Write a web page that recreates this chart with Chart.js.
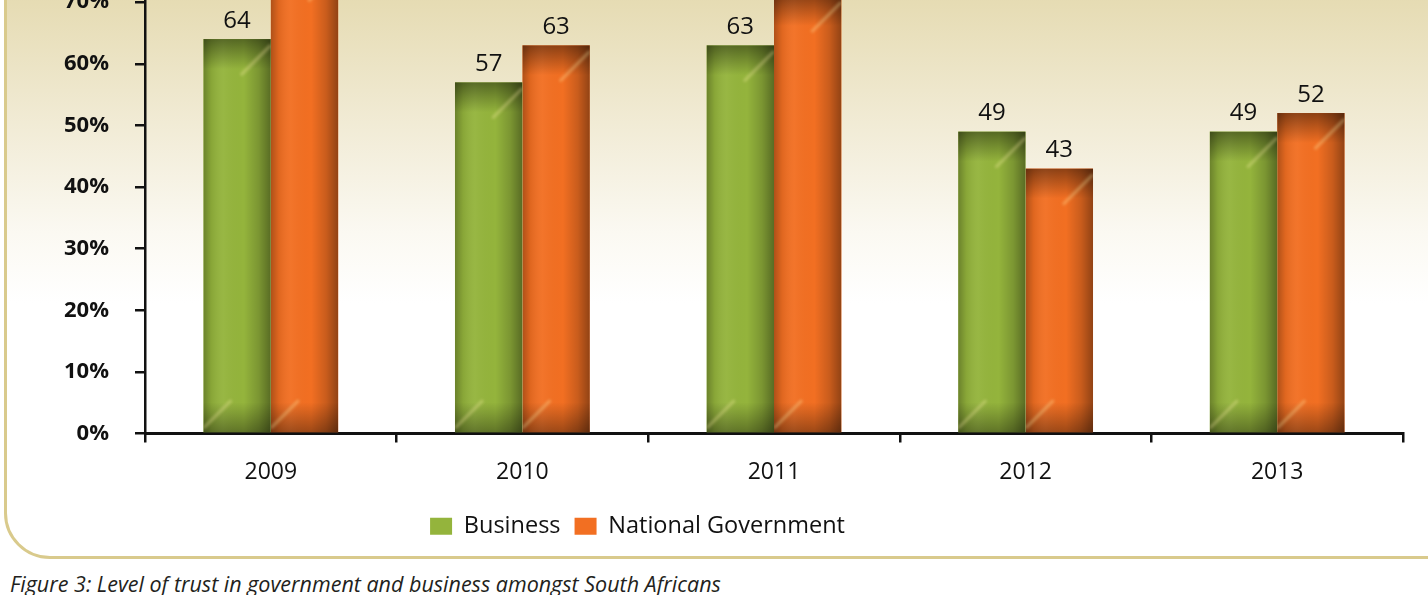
<!DOCTYPE html>
<html>
<head>
<meta charset="utf-8">
<script src="https://cdn.jsdelivr.net/npm/chart.js@4.4.1/dist/chart.umd.min.js"></script>
<style>
  html, body { margin: 0; padding: 0; background: #fff; }
  body { width: 1428px; height: 595px; overflow: hidden; position: relative; font-family: 'Open Sans', sans-serif; }
  .frame {
    position: absolute; left: 4px; top: -100px; width: 1480px; height: 653px;
    border: 3px solid #d9ca8c; border-radius: 46px;
    background: linear-gradient(to bottom, #dcd09f 0px, #e6dcb4 100px, #f1ebd5 220px, #fbf9f2 330px, #ffffff 400px);
  }
  #wrap { position: absolute; left: 0; top: -100px; width: 1428px; height: 660px; }
  .caption {
    position: absolute; left: 10px; top: 569px; font-style: italic; font-size: 21.5px;
    color: #231f20; white-space: nowrap;
  }
</style>
</head>
<body>
<div class="frame"></div>
<div id="wrap"><canvas id="grafico" width="1428" height="660"></canvas></div>
<div class="caption">Figure 3: Level of trust in government and business amongst South Africans</div>

<script>
// dados
const anos = ['2009', '2010', '2011', '2012', '2013'];
const business = [64, 57, 63, 49, 49];
const nationalGov = [76, 63, 71, 43, 52];   // 2009 e 2011 estão cortados no topo
const seriesNames = ['Business', 'National Government'];
const yTicks = [0, 10, 20, 30, 40, 50, 60, 70, 80];

Chart.defaults.font.family = "'Open Sans', sans-serif";
Chart.defaults.color = '#111';

// sombreado 3D das barras + rótulos de valor
const barShade = {
  id: 'barShade',
  afterDatasetsDraw(chart) {
    const ctx = chart.ctx;
    chart.data.datasets.forEach((ds, di) => {
      const meta = chart.getDatasetMeta(di);
      meta.data.forEach((bar, i) => {
        const L = bar.x - bar.width / 2, R = bar.x + bar.width / 2;
        const T = bar.y, B = bar.base;
        ctx.save();
        ctx.beginPath();
        ctx.rect(L, T, R - L, B - T);
        ctx.clip();

        const gh = ctx.createLinearGradient(L, 0, R, 0);
        gh.addColorStop(0, 'rgba(0,0,0,0.28)');
        gh.addColorStop(0.12, 'rgba(0,0,0,0.08)');
        gh.addColorStop(0.3, 'rgba(255,255,255,0.04)');
        gh.addColorStop(0.6, 'rgba(0,0,0,0)');
        gh.addColorStop(0.82, 'rgba(0,0,0,0.17)');
        gh.addColorStop(1, 'rgba(0,0,0,0.4)');
        ctx.fillStyle = gh;
        ctx.fillRect(L, T, R - L, B - T);

        const gt = ctx.createLinearGradient(0, T, 0, T + 30);
        gt.addColorStop(0, 'rgba(0,0,0,0.42)');
        gt.addColorStop(1, 'rgba(0,0,0,0)');
        ctx.fillStyle = gt;
        ctx.fillRect(L, T, R - L, 30);

        const gb = ctx.createLinearGradient(0, B - 30, 0, B);
        gb.addColorStop(0, 'rgba(0,0,0,0)');
        gb.addColorStop(1, 'rgba(0,0,0,0.35)');
        ctx.fillStyle = gb;
        ctx.fillRect(L, B - 30, R - L, 30);

        ctx.strokeStyle = 'rgba(255,240,170,0.35)';
        ctx.lineWidth = 3;
        ctx.filter = 'blur(1.5px)';
        ctx.beginPath();
        ctx.moveTo(R, T + 6);
        ctx.lineTo(R - 30, T + 36);
        ctx.moveTo(L, B - 4);
        ctx.lineTo(L + 28, B - 32);
        ctx.stroke();
        ctx.restore();

        ctx.save();
        ctx.fillStyle = '#111';
        ctx.font = "24px 'Open Sans', sans-serif";
        ctx.textAlign = 'center';
        ctx.textBaseline = 'bottom';
        ctx.fillText(ds.data[i], bar.x, T - 6);
        ctx.restore();
      });
    });
  }
};

// desloca a legenda para a esquerda como no original
const legendShift = {
  id: 'legendShift',
  afterLayout(chart) {
    chart.legend.left -= 64;
    chart.legend.right -= 64;
  }
};

new Chart(document.getElementById('grafico'), {
  type: 'bar',
  data: {
    labels: anos,
    datasets: [{
      label: seriesNames[0],
      data: business,
      backgroundColor: '#94b43c',
      categoryPercentage: 0.536,
      barPercentage: 1.0
    }, {
      label: seriesNames[1],
      data: nationalGov,
      backgroundColor: '#f26f22',
      categoryPercentage: 0.536,
      barPercentage: 1.0
    }]
  },
  options: {
    responsive: false,
    animation: false,
    layout: { padding: { top: 40.5, right: 25, bottom: 12, left: 0 } },
    plugins: {
      tooltip: { enabled: false },
      legend: {
        position: 'bottom',
        labels: {
          boxWidth: 22,
          boxHeight: 17,
          padding: 14,
          color: '#111',
          font: { size: 23.5 }
        }
      }
    },
    scales: {
      y: {
        min: 0,
        max: 80,
        afterBuildTicks(scale) { scale.ticks = yTicks.map(v => ({ value: v })); },
        afterFit(scale) { scale.width = 145; },
        ticks: {
          padding: 26,
          color: '#111',
          font: { size: 22, weight: 'bold' },
          callback: v => v + '%'
        },
        grid: { drawOnChartArea: false, drawTicks: true, tickLength: 10, color: '#111', lineWidth: 2.5 },
        border: { display: true, color: '#111', width: 2.5 }
      },
      x: {
        afterFit(scale) { scale.height = 67; },
        ticks: { padding: 16, color: '#111', font: { size: 23 } },
        grid: { offset: true, drawOnChartArea: false, drawTicks: true, tickLength: 9, color: '#111', lineWidth: 2.5 },
        border: { display: true, color: '#111', width: 3 }
      }
    }
  },
  plugins: [barShade, legendShift]
});
</script>
</body>
</html>
